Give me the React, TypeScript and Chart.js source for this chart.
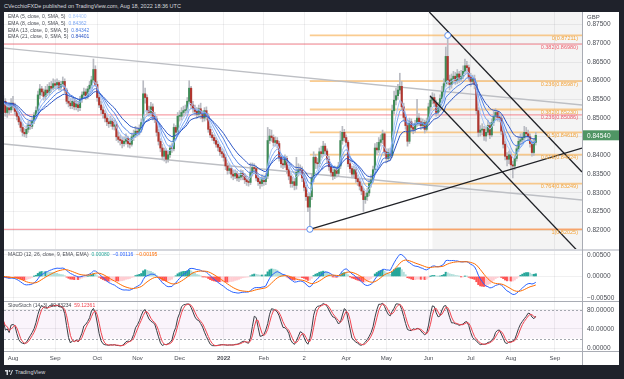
import React, { useEffect, useRef } from 'react';
import { Chart, registerables } from 'chart.js';
Chart.register(...registerables);

// ---------------- data (EUR/GBP daily, prices in 1e-4 units) ----------------
// index 0 = 2 Aug 2021, one step per weekday; first candle is 26 Jul 2021
const FIRST_INDEX = -5;
const PIP = 10000;

const OPEN = [
  8535, 8545, 8515, 8528, 8522,
  8540, 8530, 8518, 8505, 8490, 8475, 8462, 8458, 8470, 8482, 8478, 8492, 8508, 8520, 8562, 8578, 8570, 8558, 8575, 8568, 8585, 8580,
  8592, 8588, 8595, 8582, 8590, 8598, 8575, 8545, 8540, 8533, 8545, 8530, 8538, 8528, 8550, 8562, 8570, 8560, 8578, 8588, 8602, 8630,
  8590, 8555, 8535, 8522, 8512, 8500, 8490, 8485, 8492, 8478, 8482, 8450, 8443, 8440, 8432, 8438, 8445, 8432, 8430, 8450, 8455,
  8465, 8462, 8470, 8488, 8565, 8555, 8520, 8515, 8530, 8505, 8498, 8462, 8438, 8420, 8398, 8412, 8390, 8402, 8420, 8418, 8475, 8462,
  8505, 8505, 8515, 8520, 8522, 8545, 8580, 8535, 8525, 8518, 8510, 8525, 8512, 8500, 8520, 8505, 8470, 8455, 8448, 8440, 8430, 8422, 8410,
  8405, 8395, 8372, 8360, 8365, 8350, 8345, 8352, 8340, 8342, 8352, 8345, 8335, 8330, 8328, 8355, 8368, 8365, 8340, 8330, 8325,
  8338, 8330, 8345, 8440, 8452, 8448, 8435, 8440, 8432, 8395, 8378, 8375, 8392, 8362, 8345, 8325, 8330, 8320, 8355, 8362,
  8360, 8340, 8315, 8290, 8262, 8290, 8340, 8395, 8380, 8378, 8410, 8405, 8425, 8412, 8390, 8370, 8355, 8345, 8362, 8352, 8372, 8440, 8462,
  8448, 8435, 8378, 8365, 8350, 8362, 8338, 8330, 8318, 8305, 8282, 8290, 8300, 8325, 8335, 8362, 8420, 8415, 8435, 8442, 8458,
  8410, 8392, 8408, 8400, 8520, 8548, 8560, 8575, 8585, 8530, 8502, 8480, 8438, 8490, 8475, 8470, 8485, 8500, 8490, 8480, 8488, 8470,
  8490, 8530, 8548, 8555, 8540, 8515, 8530, 8552, 8570, 8592, 8665, 8602, 8590, 8605, 8612, 8600, 8618, 8605, 8612, 8625, 8640, 8635,
  8610, 8598, 8605, 8590, 8520, 8462, 8468, 8470, 8452, 8462, 8480, 8455, 8488, 8505, 8515, 8502, 8500, 8465, 8430, 8398, 8390,
  8402, 8375, 8372, 8392, 8418, 8438, 8442, 8448, 8462, 8458, 8450, 8432, 8408, 8435,
];
const HIGH = [
  8560, 8552, 8538, 8542, 8552,
  8558, 8540, 8528, 8515, 8498, 8485, 8472, 8480, 8492, 8495, 8500, 8515, 8530, 8572, 8590, 8585, 8578, 8585, 8590, 8595, 8598, 8605,
  8602, 8605, 8600, 8598, 8610, 8605, 8580, 8558, 8552, 8555, 8552, 8548, 8545, 8558, 8570, 8580, 8578, 8585, 8598, 8612, 8658, 8640,
  8598, 8562, 8545, 8530, 8520, 8508, 8500, 8505, 8500, 8495, 8490, 8462, 8455, 8450, 8450, 8458, 8452, 8445, 8460, 8468, 8478,
  8475, 8482, 8498, 8600, 8580, 8562, 8532, 8542, 8538, 8515, 8505, 8470, 8445, 8430, 8420, 8418, 8412, 8428, 8432, 8485, 8480, 8515,
  8520, 8528, 8532, 8535, 8555, 8600, 8585, 8545, 8535, 8528, 8535, 8540, 8520, 8528, 8530, 8512, 8478, 8462, 8455, 8448, 8438, 8428, 8418,
  8415, 8402, 8380, 8378, 8372, 8360, 8362, 8358, 8352, 8362, 8360, 8352, 8345, 8340, 8380, 8380, 8378, 8372, 8348, 8338, 8348,
  8345, 8352, 8475, 8470, 8468, 8455, 8450, 8448, 8438, 8402, 8390, 8402, 8398, 8368, 8352, 8342, 8338, 8395, 8378, 8375,
  8370, 8348, 8320, 8298, 8300, 8350, 8410, 8402, 8392, 8420, 8425, 8438, 8432, 8418, 8398, 8378, 8365, 8372, 8370, 8382, 8465, 8478, 8470,
  8455, 8440, 8388, 8372, 8372, 8368, 8348, 8340, 8325, 8312, 8300, 8312, 8335, 8348, 8372, 8432, 8435, 8448, 8455, 8468, 8462,
  8418, 8418, 8420, 8535, 8572, 8580, 8590, 8620, 8598, 8540, 8510, 8488, 8500, 8498, 8485, 8495, 8550, 8512, 8500, 8498, 8495, 8500,
  8540, 8560, 8568, 8565, 8548, 8542, 8562, 8585, 8605, 8690, 8721, 8615, 8618, 8625, 8622, 8630, 8625, 8628, 8640, 8658, 8652, 8642,
  8620, 8615, 8615, 8598, 8528, 8480, 8485, 8478, 8475, 8495, 8488, 8498, 8518, 8525, 8520, 8515, 8508, 8472, 8438, 8408, 8412,
  8410, 8385, 8400, 8428, 8450, 8458, 8460, 8478, 8475, 8468, 8458, 8440, 8445, 8462,
];
const LOW = [
  8525, 8505, 8502, 8510, 8515,
  8522, 8508, 8495, 8482, 8465, 8452, 8450, 8448, 8462, 8470, 8472, 8485, 8500, 8515, 8552, 8560, 8548, 8550, 8560, 8562, 8570, 8575,
  8578, 8580, 8575, 8575, 8585, 8568, 8538, 8530, 8525, 8525, 8522, 8522, 8518, 8520, 8542, 8555, 8550, 8552, 8570, 8580, 8595, 8585,
  8545, 8528, 8512, 8500, 8490, 8480, 8475, 8478, 8470, 8468, 8440, 8435, 8428, 8420, 8425, 8430, 8422, 8420, 8425, 8440, 8448,
  8452, 8455, 8462, 8480, 8540, 8510, 8505, 8505, 8495, 8488, 8452, 8428, 8410, 8388, 8385, 8380, 8382, 8395, 8408, 8412, 8450, 8455,
  8492, 8495, 8505, 8508, 8515, 8538, 8525, 8515, 8508, 8500, 8502, 8498, 8490, 8492, 8495, 8462, 8448, 8440, 8432, 8422, 8412, 8400, 8395,
  8385, 8362, 8350, 8352, 8340, 8335, 8338, 8332, 8330, 8335, 8335, 8325, 8320, 8318, 8322, 8345, 8352, 8332, 8320, 8312, 8318,
  8320, 8322, 8338, 8432, 8438, 8425, 8425, 8420, 8385, 8368, 8365, 8368, 8352, 8335, 8315, 8315, 8308, 8310, 8345, 8348,
  8330, 8305, 8280, 8250, 8203, 8282, 8330, 8365, 8365, 8370, 8395, 8398, 8400, 8380, 8360, 8345, 8335, 8338, 8342, 8345, 8365, 8430, 8438,
  8425, 8370, 8355, 8340, 8340, 8328, 8320, 8308, 8295, 8250, 8272, 8280, 8292, 8315, 8328, 8355, 8402, 8408, 8425, 8432, 8400,
  8380, 8385, 8390, 8395, 8512, 8535, 8550, 8565, 8522, 8492, 8470, 8425, 8432, 8465, 8458, 8462, 8478, 8480, 8470, 8472, 8460, 8465,
  8482, 8520, 8538, 8530, 8505, 8508, 8522, 8542, 8562, 8585, 8590, 8575, 8580, 8595, 8590, 8592, 8595, 8598, 8605, 8618, 8622, 8600,
  8585, 8590, 8578, 8510, 8450, 8452, 8455, 8440, 8438, 8455, 8445, 8450, 8480, 8495, 8492, 8490, 8455, 8420, 8388, 8372, 8378,
  8362, 8340, 8362, 8385, 8410, 8428, 8432, 8440, 8448, 8440, 8422, 8398, 8400, 8428,
];
const CLOSE = [
  8545, 8515, 8528, 8522, 8540,
  8530, 8518, 8505, 8490, 8475, 8462, 8458, 8470, 8482, 8478, 8492, 8508, 8520, 8562, 8578, 8570, 8558, 8575, 8568, 8585, 8580, 8592,
  8588, 8595, 8582, 8590, 8598, 8575, 8545, 8540, 8533, 8545, 8530, 8538, 8528, 8550, 8562, 8570, 8560, 8578, 8588, 8602, 8630, 8590,
  8555, 8535, 8522, 8512, 8500, 8490, 8485, 8492, 8478, 8482, 8450, 8443, 8440, 8432, 8438, 8445, 8432, 8430, 8450, 8455, 8465,
  8462, 8470, 8488, 8565, 8555, 8520, 8515, 8530, 8505, 8498, 8462, 8438, 8420, 8398, 8412, 8390, 8402, 8420, 8418, 8475, 8462, 8505,
  8505, 8515, 8520, 8522, 8545, 8580, 8535, 8525, 8518, 8510, 8525, 8512, 8500, 8520, 8505, 8470, 8455, 8448, 8440, 8430, 8422, 8410, 8405,
  8395, 8372, 8360, 8365, 8350, 8345, 8352, 8340, 8342, 8352, 8345, 8335, 8330, 8328, 8355, 8368, 8365, 8340, 8330, 8325, 8338,
  8330, 8345, 8440, 8452, 8448, 8435, 8440, 8432, 8395, 8378, 8375, 8392, 8362, 8345, 8325, 8330, 8320, 8355, 8362, 8360,
  8340, 8315, 8290, 8262, 8290, 8340, 8395, 8380, 8378, 8410, 8405, 8425, 8412, 8390, 8370, 8355, 8345, 8362, 8352, 8372, 8440, 8462, 8448,
  8435, 8378, 8365, 8350, 8362, 8338, 8330, 8318, 8305, 8282, 8290, 8300, 8325, 8335, 8362, 8420, 8415, 8435, 8442, 8458, 8410,
  8392, 8408, 8400, 8520, 8548, 8560, 8575, 8585, 8530, 8502, 8480, 8438, 8490, 8475, 8470, 8485, 8500, 8490, 8480, 8488, 8470, 8490,
  8530, 8548, 8555, 8540, 8515, 8530, 8552, 8570, 8592, 8665, 8602, 8590, 8605, 8612, 8600, 8618, 8605, 8612, 8625, 8640, 8635, 8610,
  8598, 8605, 8590, 8520, 8462, 8468, 8470, 8452, 8462, 8480, 8455, 8488, 8505, 8515, 8502, 8500, 8465, 8430, 8398, 8390, 8402,
  8375, 8372, 8392, 8418, 8438, 8442, 8448, 8462, 8458, 8450, 8432, 8408, 8435, 8454,
];

// ---------------- axes ----------------
const X_MIN = -4.7;
const X_MAX = 297.13;
const MONTH_TICKS = [0, 22, 44, 65, 87, 110, 131, 152, 174, 195, 217, 239, 260, 283];
const MONTH_LABELS = ['Aug', 'Sep', 'Oct', 'Nov', 'Dec', '2022', 'Feb', '2', 'Apr', 'May', 'Jun', 'Jul', 'Aug', 'Sep'];
const PRICE_TICKS = [0.82, 0.825, 0.83, 0.835, 0.84, 0.845, 0.85, 0.855, 0.86, 0.865, 0.87, 0.875];
const PRICE_RANGE = [0.81473, 0.87837];
const MACD_TICKS = [-0.005, 0, 0.005];
const MACD_RANGE = [-0.0057, 0.00616];
const STOCH_TICKS = [0, 40, 80];
const STOCH_RANGE = [-6.3, 98.9];
const STOCH_BAND = [20, 80];

// ---------------- drawings ----------------
const FIB_ORANGE_START = 155;
const FIB_ORANGE_LEVELS = [0.87211, 0.85987, 0.8523, 0.84618, 0.84024, 0.83249, 0.82025];
const FIB_ORANGE_LABELS = ['0(0.87211)', '0.236(0.85987)', '0.382(0.85230)', '0.5(0.84618)', '0.618(0.84024)', '0.764(0.83249)', '1(0.82025)'];
const FIB_RED_LEVELS = [0.8698, 0.85086, 0.82025];
const FIB_RED_LABELS = ['0.382(0.86980)', '0.236(0.85086)', ''];
const GRAY_UPPER = [[-4.7, 0.8687], [297.13, 0.8535]];
const GRAY_LOWER = [[-4.7, 0.84307], [297.13, 0.8281]];
const SUPPORT_LINE = [[155, 0.82025], [297.13, 0.842]];
const CHANNEL_UPPER = [[217.4, 0.87837], [297.13, 0.83559]];
const CHANNEL_LOWER = [[217.8, 0.85591], [297.13, 0.81324]];
const PIVOT_POINTS = [[155, 0.82025], [227, 0.87211]];
const SHADE_START = 219;

// ---------------- legends ----------------
const EMA_PERIODS = [5, 8, 13, 21];
const EMA_LABELS = ['EMA (5, close, 0, SMA, 5)', 'EMA (8, close, 0, SMA, 5)', 'EMA (13, close, 0, SMA, 5)', 'EMA (21, close, 0, SMA, 5)'];
const EMA_VALUES = ['0.84400', '0.84362', '0.84342', '0.84401'];
const EMA_COLORS = ['#a6c6fa', '#7ba7f3', '#4e80e4', '#2853c4'];
const MACD_LABEL = 'MACD (12, 26, close, 9, EMA, EMA)';
const MACD_VALUES = ['0.00080', '\u22120.00116', '\u22120.00195'];
const MACD_COLORS = ['#26a69a', '#2962ff', '#ff6d00'];
const STOCH_LABEL = 'SlowStoch (14, 3)';
const STOCH_VALUES = ['62.83234', '59.12361'];
const STOCH_COLORS = ['#3a3d45', '#f0444f'];
const LAST_PRICE_LABEL = '0.84540';

const UP = '#3f8c57';
const DOWN = '#b0362f';
const WICK = '#b9bbc2';
const GRID = 'rgba(42,46,57,0.07)';
const FONT = '"Liberation Sans", Arial, sans-serif';
const TEXT = '#4a4d55';

// indicator definitions (as named in the legends), computed from the candles
function ema(src: number[], n: number) {
  const k = 2 / (n + 1);
  const out: number[] = [];
  let prev = src[0];
  src.forEach((v, i) => { prev = i === 0 ? v : v * k + prev * (1 - k); out.push(prev); });
  return out;
}
function sma(src: number[], n: number) {
  return src.map((_, i) => {
    const s = src.slice(Math.max(0, i - n + 1), i + 1);
    return s.reduce((a, b) => a + b, 0) / s.length;
  });
}

const fmt = (v: number, d: number) => {
  const s = Math.abs(v) < 1e-12 ? (0).toFixed(d) : v.toFixed(d);
  return s.replace('-', '\u2212');
};

const overlayPlugin = {
  id: 'tvOverlay',
  beforeDatasetsDraw(chart: any) {
    const { ctx } = chart;
    const x = chart.scales.x, yp = chart.scales.y, ys = chart.scales.ys;
    ctx.save();
    const sx = x.getPixelForValue(SHADE_START);
    ctx.fillStyle = 'rgba(0,0,0,0.045)';
    ctx.fillRect(sx, yp.top, x.right - sx, yp.bottom - yp.top);
    const yb1 = ys.getPixelForValue(STOCH_BAND[1]);
    const yb0 = ys.getPixelForValue(STOCH_BAND[0]);
    ctx.fillStyle = 'rgba(156,39,176,0.05)';
    ctx.fillRect(x.left, yb1, x.right - x.left, yb0 - yb1);
    ctx.strokeStyle = '#a4a7af';
    ctx.lineWidth = 1;
    ctx.setLineDash([2, 2]);
    [yb1, yb0].forEach((yy) => {
      ctx.beginPath();
      ctx.moveTo(x.left, Math.round(yy) + 0.5);
      ctx.lineTo(x.right, Math.round(yy) + 0.5);
      ctx.stroke();
    });
    ctx.restore();
  },
  afterDraw(chart: any) {
    const { ctx, width, height } = chart;
    const x = chart.scales.x, yp = chart.scales.y, ym = chart.scales.ym, ys = chart.scales.ys;
    ctx.save();
    // pane separators and axis lines
    ctx.fillStyle = '#d4d6dc';
    ctx.fillRect(0, yp.bottom - 1, width, 2);
    ctx.fillStyle = '#a9acb4';
    ctx.fillRect(0, Math.round(ym.bottom), width, 1);
    ctx.fillRect(0, Math.round(ys.bottom), width, 1);
    ctx.fillRect(Math.round(x.right), 0, 1, height);

    // fib labels
    ctx.font = `5.5px ${FONT}`;
    ctx.textAlign = 'right';
    ctx.textBaseline = 'middle';
    FIB_ORANGE_LEVELS.forEach((lv, i) => {
      ctx.fillStyle = '#f2a33a';
      ctx.fillText(FIB_ORANGE_LABELS[i], x.right - 4, yp.getPixelForValue(lv) + 3);
    });
    FIB_RED_LEVELS.forEach((lv, i) => {
      if (!FIB_RED_LABELS[i]) return;
      ctx.fillStyle = '#ef5b6a';
      ctx.fillText(FIB_RED_LABELS[i], x.right - 4, yp.getPixelForValue(lv) + 3);
    });

    // legends
    const runs = (x0: number, y0: number, parts: [string, string][]) => {
      let cx = x0;
      parts.forEach(([t, c]) => {
        ctx.fillStyle = c;
        ctx.fillText(t, cx, y0);
        cx += ctx.measureText(t).width + 3;
      });
    };
    ctx.textAlign = 'left';
    ctx.font = `5px ${FONT}`;
    EMA_LABELS.forEach((l, i) => {
      runs(4, yp.top + 5 + i * 6.7, [[l, TEXT], [EMA_VALUES[i], EMA_COLORS[i]]]);
    });
    runs(4, ym.top + 5, [[MACD_LABEL, TEXT], ...MACD_VALUES.map((v, i) => [v, MACD_COLORS[i]] as [string, string])]);
    runs(4, ys.top + 5, [[STOCH_LABEL, TEXT], ...STOCH_VALUES.map((v, i) => [v, STOCH_COLORS[i]] as [string, string])]);

    // currency + last price label
    ctx.font = `6px ${FONT}`;
    ctx.fillStyle = TEXT;
    ctx.fillText('GBP', x.right + 5, yp.top + 5);
    const py = yp.getPixelForValue(CLOSE[CLOSE.length - 1] / PIP);
    ctx.fillStyle = '#4f9564';
    ctx.fillRect(x.right + 1, py - 5, width - x.right - 1, 10);
    ctx.font = `6.5px ${FONT}`;
    ctx.fillStyle = '#ffffff';
    ctx.fillText(LAST_PRICE_LABEL, x.right + 5, py + 0.5);
    ctx.restore();
  },
};

function yAxis(stackWeight: number, range: number[], ticks: number[], dec: number, extra: any = {}) {
  return {
    type: 'linear',
    position: 'right',
    stack: 'panes',
    stackWeight,
    min: range[0],
    max: range[1],
    afterBuildTicks: (s: any) => { s.ticks = ticks.map((v) => ({ value: v })); },
    afterFit: (s: any) => { s.width = 37; s.paddingTop = 0; s.paddingBottom = 0; },
    grid: { color: GRID, drawTicks: false },
    border: { display: false },
    ticks: {
      padding: 5,
      color: TEXT,
      font: { family: FONT, size: 6.5 },
      callback: (v: number) => fmt(Number(v), dec),
    },
    ...extra,
  };
}

function lineSet(points: number[][], color: string, width: number, order: number) {
  return {
    type: 'line',
    data: points.map(([px, py]) => ({ x: px, y: py })),
    borderColor: color,
    borderWidth: width,
    pointRadius: 0,
    yAxisID: 'y',
    order,
  };
}

export default function App() {
  const ref = useRef<HTMLCanvasElement | null>(null);

  useEffect(() => {
    if (!ref.current) return;
    const xs = CLOSE.map((_, k) => k + FIRST_INDEX);
    const closes = CLOSE.map((c) => c / PIP);
    const highs = HIGH.map((h) => h / PIP);
    const lows = LOW.map((l) => l / PIP);

    const bodies = xs.map((xv, k) => ({ x: xv, y: [OPEN[k] / PIP, CLOSE[k] / PIP] }));
    const bodyColors = CLOSE.map((c, k) => (c >= OPEN[k] ? UP : DOWN));
    const wicks = xs.map((xv, k) => ({ x: xv, y: [lows[k], highs[k]] }));

    const emaSets = EMA_PERIODS.map((p, i) => {
      const e = ema(closes, p);
      return {
        type: 'line',
        data: xs.map((xv, k) => ({ x: xv, y: e[k] })),
        borderColor: EMA_COLORS[i],
        borderWidth: 1,
        pointRadius: 0,
        yAxisID: 'y',
        order: 10 - i,
      };
    });

    const e12 = ema(closes, 12);
    const e26 = ema(closes, 26);
    const macd = e12.map((v, k) => v - e26[k]);
    const signal = ema(macd, 9);
    const hist = macd.map((v, k) => v - signal[k]);
    const histColors = hist.map((h, k) => {
      const prev = k > 0 ? hist[k - 1] : h;
      if (h >= 0) return h >= prev ? '#26a69a' : '#b2dfdb';
      return h < prev ? '#ff5252' : '#ffcdd2';
    });

    const rawK = closes.map((c, k) => {
      const lo = Math.min(...lows.slice(Math.max(0, k - 13), k + 1));
      const hi = Math.max(...highs.slice(Math.max(0, k - 13), k + 1));
      return hi === lo ? 50 : (100 * (c - lo)) / (hi - lo);
    });
    const kLine = sma(rawK, 3);
    const dLine = sma(kLine, 3);

    const fibSets: any[] = [];
    FIB_RED_LEVELS.forEach((lv) => fibSets.push(lineSet([[X_MIN, lv], [X_MAX, lv]], 'rgba(242,80,96,0.55)', 1.3, 40)));
    FIB_ORANGE_LEVELS.forEach((lv) => fibSets.push(lineSet([[FIB_ORANGE_START, lv], [X_MAX, lv]], 'rgba(247,170,70,0.6)', 1.8, 39)));

    const datasets: any[] = [
      {
        type: 'line',
        data: PIVOT_POINTS.map(([px, py]) => ({ x: px, y: py })),
        showLine: false,
        pointRadius: 3,
        pointBackgroundColor: '#ffffff',
        pointBorderColor: '#5a8def',
        pointBorderWidth: 1,
        yAxisID: 'y',
        order: 0,
      },
      lineSet(SUPPORT_LINE, '#1f2126', 1.3, 1),
      lineSet(CHANNEL_UPPER, '#1f2126', 1.3, 1),
      lineSet(CHANNEL_LOWER, '#1f2126', 1.3, 1),
      ...emaSets,
      {
        type: 'bar',
        data: bodies,
        backgroundColor: bodyColors,
        barThickness: 1.5,
        minBarLength: 1,
        grouped: false,
        yAxisID: 'y',
        order: 20,
      },
      {
        type: 'bar',
        data: wicks,
        backgroundColor: WICK,
        barThickness: 1,
        grouped: false,
        yAxisID: 'y',
        order: 21,
      },
      lineSet(GRAY_UPPER, '#bdbfc4', 1.4, 30),
      lineSet(GRAY_LOWER, '#bdbfc4', 1.4, 30),
      ...fibSets,
      {
        type: 'line',
        data: xs.map((xv, k) => ({ x: xv, y: macd[k] })),
        borderColor: '#2962ff',
        borderWidth: 1,
        pointRadius: 0,
        yAxisID: 'ym',
        order: 50,
      },
      {
        type: 'line',
        data: xs.map((xv, k) => ({ x: xv, y: signal[k] })),
        borderColor: '#ff6d00',
        borderWidth: 1,
        pointRadius: 0,
        yAxisID: 'ym',
        order: 49,
      },
      {
        type: 'bar',
        data: xs.map((xv, k) => ({ x: xv, y: hist[k] })),
        backgroundColor: histColors,
        barThickness: 1.5,
        grouped: false,
        yAxisID: 'ym',
        order: 55,
      },
      {
        type: 'line',
        data: xs.map((xv, k) => ({ x: xv, y: kLine[k] })),
        borderColor: '#3a3d45',
        borderWidth: 1,
        pointRadius: 0,
        yAxisID: 'ys',
        order: 60,
      },
      {
        type: 'line',
        data: xs.map((xv, k) => ({ x: xv, y: dLine[k] })),
        borderColor: '#f0444f',
        borderWidth: 1,
        pointRadius: 0,
        yAxisID: 'ys',
        order: 59,
      },
    ];

    const chart = new Chart(ref.current, {
      type: 'bar',
      data: { datasets },
      options: {
        responsive: false,
        animation: false,
        devicePixelRatio: 1,
        layout: { padding: 0, autoPadding: false },
        plugins: { legend: { display: false }, tooltip: { enabled: false } },
        scales: {
          x: {
            type: 'linear',
            min: X_MIN,
            max: X_MAX,
            offset: false,
            afterBuildTicks: (s: any) => { s.ticks = MONTH_TICKS.map((v) => ({ value: v })); },
            afterFit: (s: any) => { s.height = 14; s.paddingLeft = 0; s.paddingRight = 0; },
            grid: { color: GRID, drawTicks: false, offset: false },
            border: { display: false },
            ticks: {
              autoSkip: false,
              maxRotation: 0,
              padding: 4,
              color: TEXT,
              font: (c: any) => ({
                family: FONT,
                size: 6,
                weight: c.tick && MONTH_LABELS[MONTH_TICKS.indexOf(c.tick.value)] === '2022' ? 'bold' : 'normal',
              }),
              callback: (v: number) => {
                const k = MONTH_TICKS.indexOf(Number(v));
                return k >= 0 ? MONTH_LABELS[k] : '';
              },
            },
          },
          y: yAxis(238, PRICE_RANGE, PRICE_TICKS, 5),
          ym: yAxis(51, MACD_RANGE, MACD_TICKS, 5),
          ys: yAxis(50, STOCH_RANGE, STOCH_TICKS, 5),
        } as any,
      },
      plugins: [overlayPlugin],
    } as any);
    return () => chart.destroy();
  }, []);

  return (
    <div style={{ position: 'fixed', inset: 0, background: '#1f222b', overflow: 'hidden', fontFamily: FONT }}>
      <div style={{ position: 'absolute', left: 4, top: 2, fontSize: '5.5px', lineHeight: '8px', color: '#d6d8de', whiteSpace: 'nowrap' }}>
        CVecchioFXDe published on TradingView.com, Aug 18, 2022 18:36 UTC
      </div>
      <div style={{ position: 'absolute', left: 4, top: 12, width: 615, height: 353, background: '#ffffff' }}>
        <canvas ref={ref} width={615} height={353} style={{ display: 'block', width: 615, height: 353 }} />
      </div>
      <div style={{ position: 'absolute', left: 5, top: 368, display: 'flex', alignItems: 'center', gap: 2, color: '#d6d8de', fontSize: '5.5px', lineHeight: '8px' }}>
        <svg width="8" height="5" viewBox="0 0 16 10">
          <path d="M0 0h6v10H3V3H0z" fill="#d6d8de" />
          <circle cx="9" cy="2" r="1.8" fill="#d6d8de" />
          <path d="M10 10l4-10h2l-4 10z" fill="#d6d8de" />
        </svg>
        <span>TradingView</span>
      </div>
    </div>
  );
}
